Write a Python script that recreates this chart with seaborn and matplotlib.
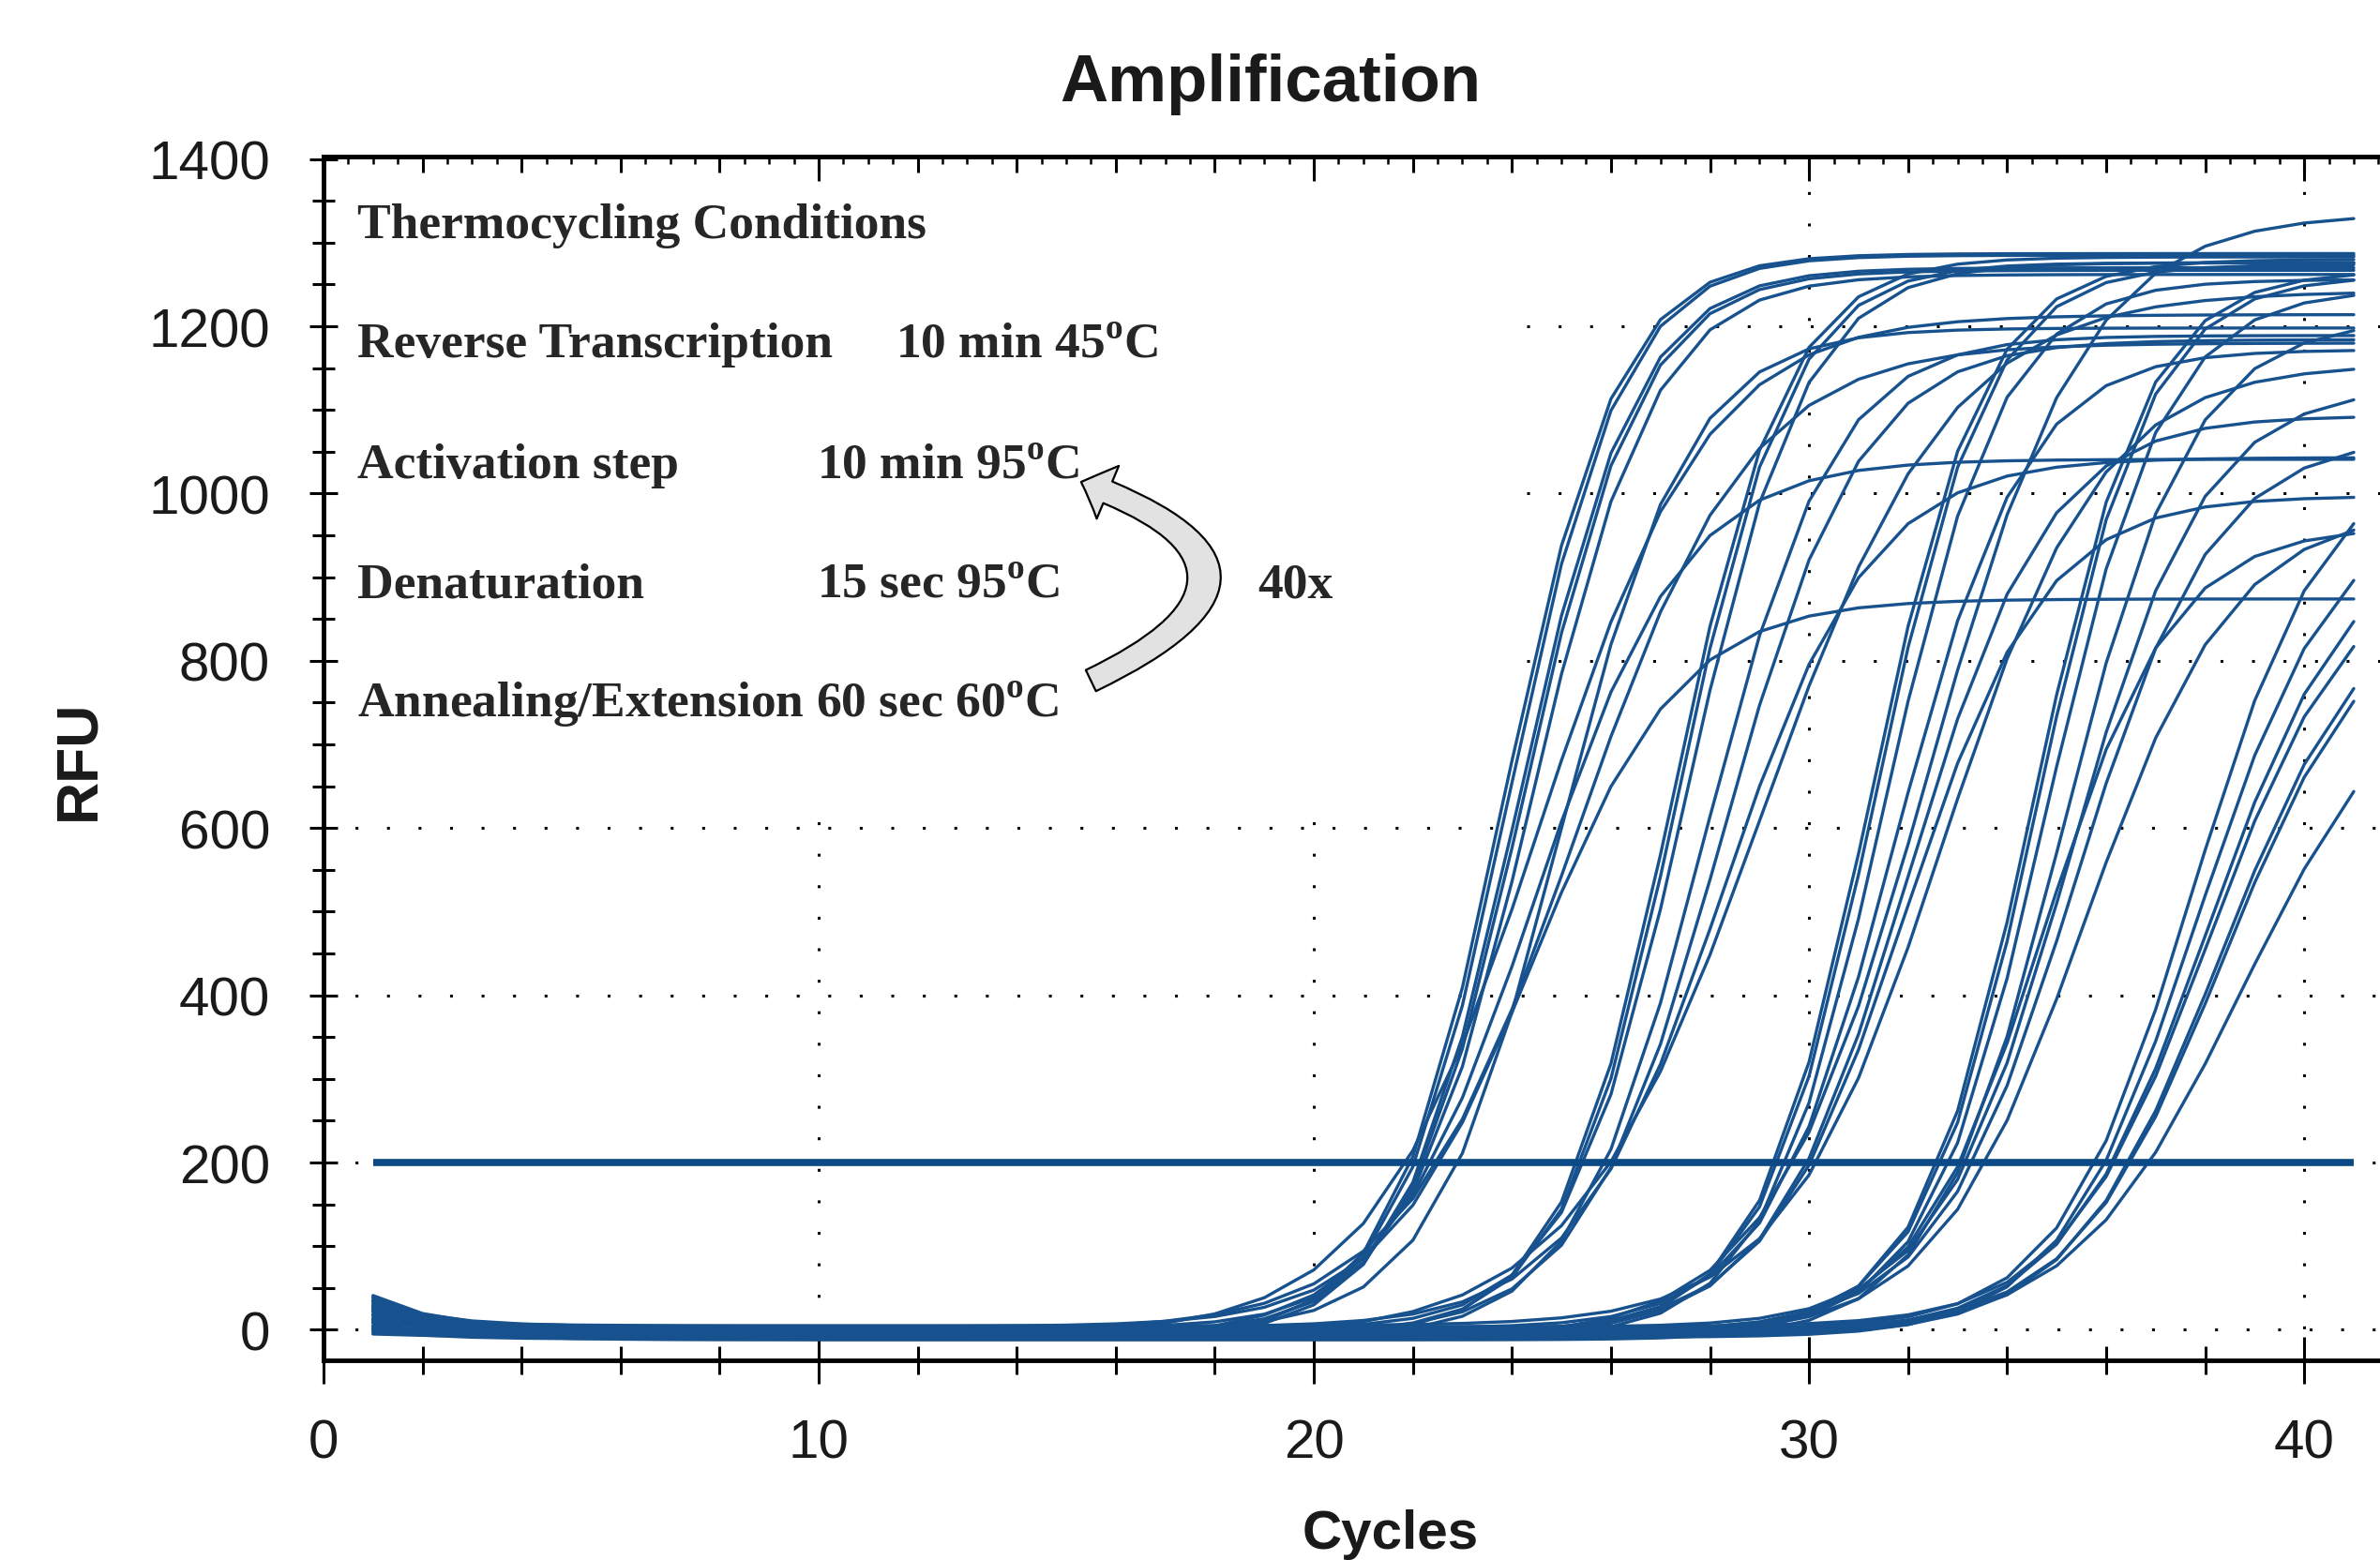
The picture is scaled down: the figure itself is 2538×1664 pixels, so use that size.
import numpy as np
import pandas as pd
import seaborn as sns
import matplotlib.pyplot as plt
from matplotlib.ticker import MultipleLocator, NullFormatter
from matplotlib.patches import FancyArrowPatch

# qPCR amplification curves:
# threshold crossing cycle (Cq), plateau RFU and steepness of each well
cycles = np.arange(1, 42)
cq = [21.9, 22.0, 22.1, 22.2, 22.3, 21.8, 22.5, 22.3, 22.6, 22.9,
      25.3, 25.4, 25.5, 25.8, 26.0, 26.1, 25.9,
      29.3, 29.4, 29.5, 29.7, 29.9, 30.0, 30.2, 29.6,
      32.6, 32.7, 32.8, 33.0, 33.2, 33.3, 33.5, 33.0,
      35.8, 35.9, 36.1, 36.2, 36.4, 36.5, 36.8]
plateau = [1295, 1290, 1280, 1270, 1260, 1220, 1180, 1050, 870, 1200,
           1290, 1280, 1275, 1200, 1190, 1040, 1250,
           1285, 1275, 1265, 1170, 1100, 1000, 1150, 1345,
           1270, 1260, 1250, 1220, 1125, 1070, 990, 965,
           1050, 1000, 960, 920, 900, 880, 820]
steepness = [1.15, 1.15, 1.2, 1.2, 1.25, 1.7, 1.75, 1.5, 1.5, 1.3,
             1.15, 1.15, 1.2, 1.3, 1.4, 1.5, 1.9,
             1.15, 1.15, 1.2, 1.3, 1.4, 1.4, 1.6, 1.6,
             1.15, 1.15, 1.2, 1.3, 1.35, 1.4, 1.5, 1.3,
             1.35, 1.4, 1.45, 1.45, 1.5, 1.5, 1.7]
baseline = [-8, -5, -10, -3, 2, -6, 0, -9, 4, -2, -7, -4, 1, -11, -6, 3, -8, -5, -1, -9,
            2, -7, -3, 5, -10, -4, 0, -6, -12, 3, -2, -8, -5, 1, -9, -3, 4, -7, -1, -6]
start_drift = [38, 22, 12, 30, 8, 44, 18, 26, 5, 34, 15, 28, 40, 10, 20, 32, 3, 24, 36, 14,
               7, 29, 42, 17, 11, 33, 25, 6, 39, 21, 13, 35, 9, 27, 43, 16, 31, 4, 23, 19]
threshold_rfu = 200
threshold_span = [1, 41]

step_names = ["Thermocycling Conditions", "Reverse Transcription", "Activation step",
              "Denaturation", "Annealing/Extension 60 sec 60$^{\\mathrm{o}}$C"]
step_settings = ["", "10 min 45$^{\\mathrm{o}}$C", "10 min 95$^{\\mathrm{o}}$C",
                 "15 sec 95$^{\\mathrm{o}}$C", ""]
setting_x = [0, 11.56, 9.97, 9.97, 0]
row_rfu = [1307, 1164, 1020, 877, 734]

rows = []
for i in range(len(cq)):
    mid = cq[i] + steepness[i] * np.log(plateau[i] / threshold_rfu - 1)
    rfu = (baseline[i] + start_drift[i] * np.exp(-(cycles - 1) / 1.3)
           + plateau[i] / (1 + np.exp(-(cycles - mid) / steepness[i])))
    rows.append(pd.DataFrame({"well": i, "cycle": cycles, "rfu": rfu}))
df = pd.concat(rows, ignore_index=True)

sns.set_style("white")
plt.rcParams["font.family"] = ["Liberation Sans", "DejaVu Sans"]
plt.rcParams["mathtext.fontset"] = "custom"
plt.rcParams["mathtext.rm"] = "Liberation Serif:bold"

fig = plt.figure(figsize=(25.38, 16.65), dpi=100)
ax = fig.add_axes([0.1359, 0.1279, 0.8641, 0.7712])
xmax, ymin, ymax = 41.53, -36.5, 1403
ax.set_xlim(0, xmax)
ax.set_ylim(ymin, ymax)

# dotted grid; the text box in the upper-left corner hides part of it
box_x, box_y = 24.3, 612
grid_kw = dict(color="black", lw=2.2, linestyle=(0, (1, 10)), zorder=1)
for gx in [10, 20, 30, 40]:
    ax.vlines(gx, ymin, box_y if gx < box_x else ymax, **grid_kw)
for gy in [0, 200, 400, 600, 800, 1000, 1200]:
    ax.hlines(gy, box_x if gy > box_y else 0, xmax, **grid_kw)

curve_color = "#17528e"
sns.lineplot(data=df, x="cycle", y="rfu", units="well", estimator=None,
             color=curve_color, lw=2.4, legend=False, ax=ax, zorder=2)
ax.plot(threshold_span, [threshold_rfu] * 2, color="#0b4a86", lw=5.5, zorder=3,
        solid_capstyle="butt")
ax.set_xlabel("")
ax.set_ylabel("")

ax.xaxis.set_major_locator(MultipleLocator(10))
ax.xaxis.set_minor_locator(MultipleLocator(2))
ax.yaxis.set_major_locator(MultipleLocator(200))
ax.yaxis.set_minor_locator(MultipleLocator(50))
ax.grid(False)

for side in ["left", "bottom", "top"]:
    ax.spines[side].set_linewidth(3.5)
    ax.spines[side].set_color("black")
ax.spines["right"].set_visible(False)

ax.tick_params(axis="both", which="both", direction="inout", width=2.2, color="black",
               labelsize=42, labelcolor="#1a1a1a", top=False, right=False,
               bottom=True, left=True)
ax.tick_params(axis="x", which="major", length=36, pad=26)
ax.tick_params(axis="x", which="minor", length=21)
ax.tick_params(axis="y", which="major", length=22, pad=30)
ax.tick_params(axis="y", which="minor", length=17)

# fine inward ticks along the top edge (two twin axes: 2/0.5 cycle and 10 cycle marks)
for major_step, minor_step, major_len in [(2, 0.5, 12), (10, 100, 19)]:
    tw = ax.twiny()
    tw.set_xlim(0, xmax)
    tw.xaxis.set_major_locator(MultipleLocator(major_step))
    tw.xaxis.set_minor_locator(MultipleLocator(minor_step))
    tw.xaxis.set_major_formatter(NullFormatter())
    tw.tick_params(axis="x", which="major", direction="in", length=major_len, width=2.2,
                   color="black", top=True, bottom=False)
    tw.tick_params(axis="x", which="minor", direction="in", length=6, width=1.8,
                   color="black", top=True, bottom=False)
    tw.tick_params(axis="y", left=False, right=False, labelleft=False, labelright=False)
    for side in ["left", "bottom", "right"]:
        tw.spines[side].set_visible(False)
    tw.spines["top"].set_linewidth(3.5)
    tw.spines["top"].set_color("black")
    tw.grid(False)

# thermocycling protocol annotation
serif = ["Liberation Serif", "DejaVu Serif"]
for name, setting, sx, y in zip(step_names, step_settings, setting_x, row_rfu):
    ax.text(0.675, y, name, family=serif, weight="bold", fontsize=38.5,
            va="baseline", ha="left", zorder=5)
    if setting:
        ax.text(sx, y, setting, family=serif, weight="bold", fontsize=38.5,
                va="baseline", ha="left", zorder=5)
ax.text(18.87, row_rfu[3], "40x", family=serif, weight="bold", fontsize=38.5,
        va="baseline", ha="left", zorder=5)
arrow = FancyArrowPatch((15.45, 775), (15.25, 1015), connectionstyle="arc3,rad=1.2",
                        arrowstyle="simple,head_width=44,head_length=22,tail_width=18",
                        facecolor="#e2e2e2", edgecolor="black", lw=1.6, zorder=5)
ax.add_patch(arrow)

fig.text(0.5336, 0.935, "Amplification", ha="center", va="baseline",
         fontsize=51, weight="bold", color="#1a1a1a")
fig.text(0.0331, 0.513, "RFU", ha="center", va="center", rotation=90,
         fontsize=45, weight="bold", color="#1a1a1a")
fig.text(0.5843, 0.008, "Cycles", ha="center", va="baseline",
         fontsize=42, weight="bold", color="#1a1a1a")

fig.savefig("out.png", dpi=100, facecolor="white")
